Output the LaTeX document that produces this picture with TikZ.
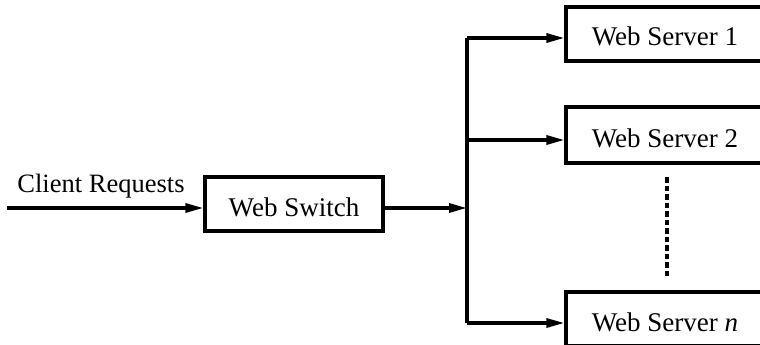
\documentclass[tikz,border=0pt]{standalone}
\usepackage{fontspec}
\setmainfont{Liberation Serif}
\usetikzlibrary{arrows.meta}
\begin{document}
\begin{tikzpicture}[x=1pt,y=-1pt,
  wire/.style={line width=3.2pt},
  flow/.style={wire,-{Triangle[length=18pt,width=9pt]}},
  box/.style={draw,line width=3.2pt,rectangle,inner sep=0pt,
    text height=24pt,text depth=0pt,
    font=\fontsize{27}{30}\selectfont},
  lbl/.style={font=\fontsize{26.5}{30}\selectfont,inner sep=0pt}]
  \useasboundingbox (0,0) rectangle (760,345);
  \clip (0,0) rectangle (760,345);

  % switch and servers
  \node[box,minimum width=178pt,minimum height=54pt] (sw) at (294,204) {Web Switch};
  \node[box,minimum width=198pt,minimum height=54pt] (s1) at (665,34) {Web Server 1};
  \node[box,minimum width=198pt,minimum height=56pt] (s2) at (665,135) {Web Server 2};
  \node[box,minimum width=198pt,minimum height=54pt] (sn) at (665,319) {Web Server \textit{n}};

  % incoming requests
  \coordinate (in) at (7,208);
  \node[lbl,anchor=base] (req) at (101,192) {Client Requests};
  \draw[flow] (in) -- (sw.west |- in);

  % distribution trunk
  \coordinate (t1) at (467,38);
  \coordinate (t2) at (467,140);
  \coordinate (tm) at (467,208);
  \coordinate (tn) at (467,323);
  \draw[wire] (t1) -- (tn);
  \draw[flow] (sw.east |- tm) -- (tm);
  \draw[flow] (t1) -- (s1.west |- t1);
  \draw[flow] (t2) -- (s2.west |- t2);
  \draw[flow] (tn) -- (sn.west |- tn);

  % elided servers
  \coordinate (d1) at (667,177);
  \coordinate (d2) at (667,277);
  \draw[line width=3.2pt,dash pattern=on 5.5pt off 3pt] (d1) -- (d2);
\end{tikzpicture}
\end{document}
